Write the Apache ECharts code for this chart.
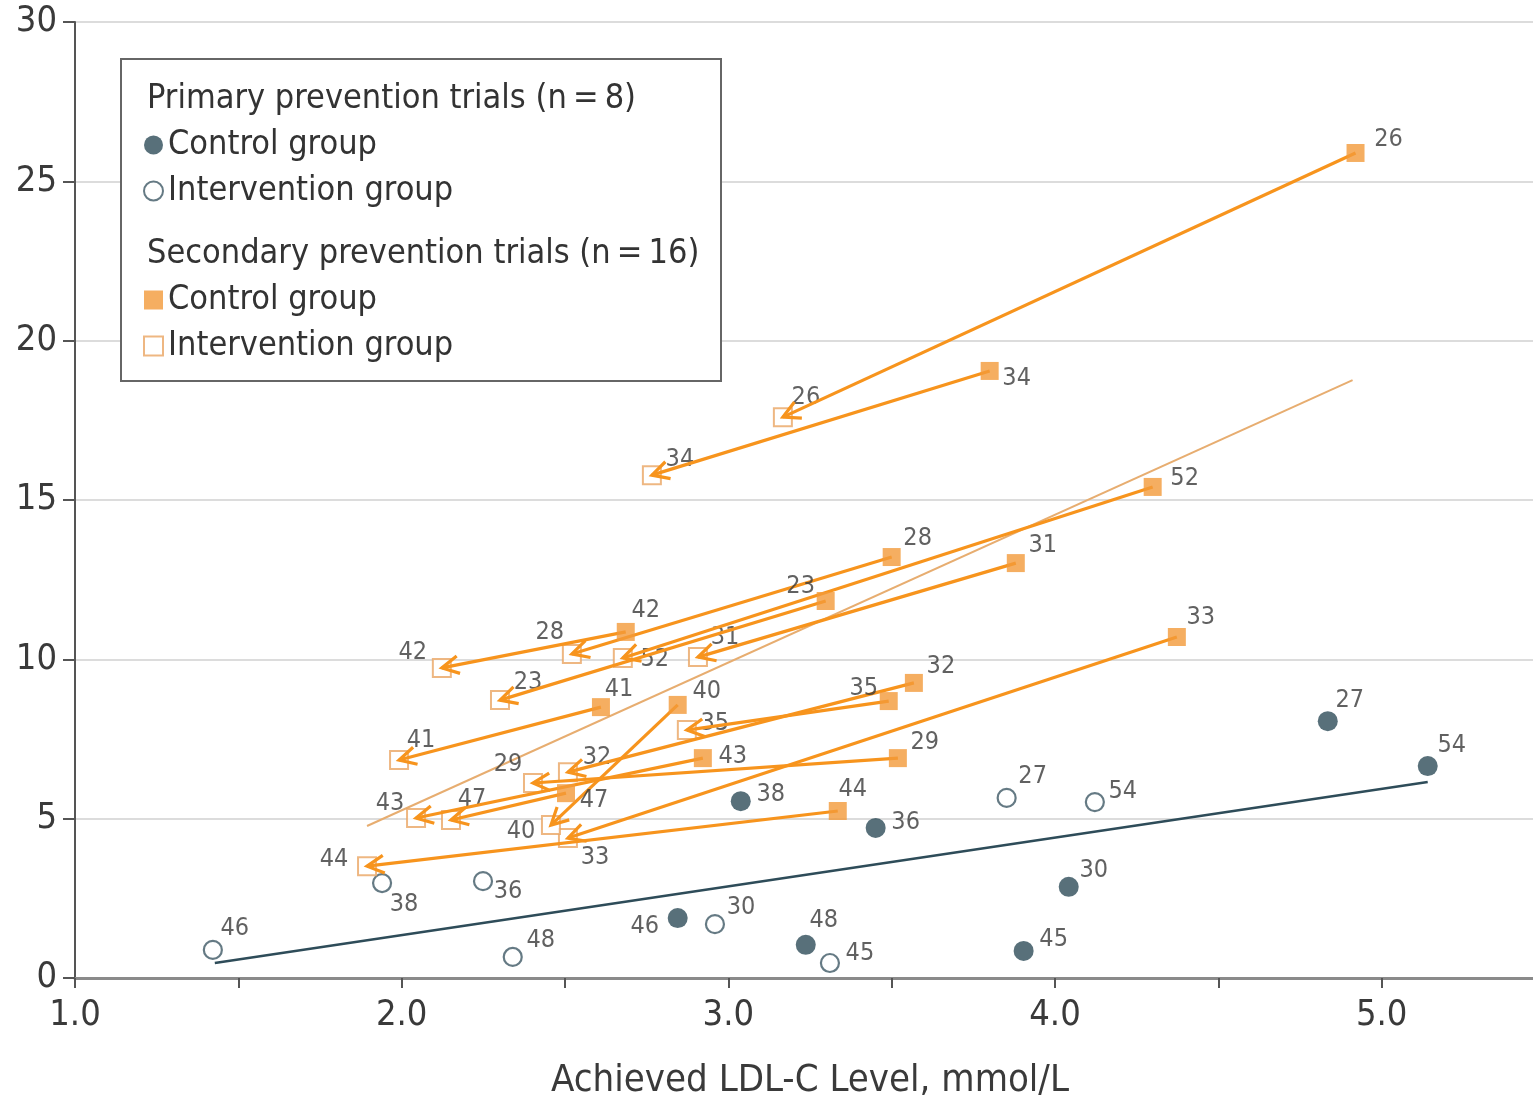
<!DOCTYPE html>
<html><head><meta charset="utf-8">
<script src="https://cdn.jsdelivr.net/npm/echarts@6/dist/echarts.min.js"></script>
<style>html,body{margin:0;padding:0;background:#fff}#c{width:1533px;height:1099px}</style>
</head><body><div id="c"></div>
<script>
// ---------- DATA ----------
const primaryLabels = ['27','54','38','36','30','46','48','45'];
const primaryControlX = [4.835,5.141,3.038,3.451,4.042,2.845,3.237,3.904];
const primaryControlY = [8.06,6.65,5.55,4.71,2.86,1.88,1.04,0.85];
const primaryInterventionX = [3.852,4.122,1.940,2.249,2.959,1.422,2.340,3.311];
const primaryInterventionY = [5.65,5.52,2.98,3.04,1.69,0.88,0.66,0.47];

const secondaryLabels = ['26','34','52','28','31','23','42','33','32','35','41','40','43','29','47','44'];
const secondaryControlX = [4.920,3.800,4.299,3.500,3.880,3.298,2.686,4.373,3.568,3.491,2.610,2.845,2.922,3.519,2.503,3.335];
const secondaryControlY = [25.89,19.05,15.41,13.21,13.02,11.83,10.86,10.70,9.26,8.69,8.50,8.57,6.90,6.90,5.80,5.24];
const secondaryInterventionX = [3.167,2.766,2.677,2.521,2.907,2.301,2.123,2.509,2.509,2.873,1.992,2.457,2.044,2.402,2.151,1.894];
const secondaryInterventionY = [17.60,15.78,10.04,10.17,10.07,8.72,9.73,4.39,6.46,7.78,6.84,4.80,5.02,6.12,4.96,3.51];

const primaryFitX = [1.428, 5.141];
const primaryFitY = [0.47, 6.15];
const secondaryFitX = [1.894, 4.911];
const secondaryFitY = [4.77, 18.76];

const xTickLabels = ['1.0','2.0','3.0','4.0','5.0'];
const yTickLabels = ['0','5','10','15','20','25','30'];
const xAxisTitle = 'Achieved LDL-C Level, mmol/L';
const legendHeaders = ['Primary prevention trials (n\u2009=\u20098)', 'Secondary prevention trials (n\u2009=\u200916)'];

// ---------- STYLE (label offsets in px) ----------
const pcOff = [[22,-21],[24,-21],[30,-7],[30,-5],[25,-16],[-33,8],[18,-24],[30,-11]];
const piOff = [[26,-21],[28,-11],[22,21],[25,10],[26,-17],[22,-21],[28,-16],[30,-10]];
const scOff = [[33,-13],[27,8],[32,-8],[26,-19],[27,-18],[-25,-15],[20,-21],[24,-20],[27,-16],[-25,-13],[18,-18],[29,-13],[30,-2],[27,-16],[28,7],[15,-22]];
const siOff = [[23,-20],[28,-16],[32,1],[-22,-21],[27,-20],[28,-18],[-29,-15],[27,19],[29,-15],[28,-7],[22,-20],[-30,6],[-26,-15],[-25,-18],[21,-20],[-33,-7]];

const FONT = '"DejaVu Sans Condensed","DejaVu Sans",sans-serif';
const DARK = '#2e4c59';
const ORANGE = '#f39a3a';
const ARROW = '#f7941d';
const OPEN_SQ = '#eaa563';
const TEXT = '#3a3a3a';

function pts(xs, ys, labels, offs) {
  return xs.map((x, i) => ({
    value: [x, ys[i]],
    name: labels[i],
    label: { offset: offs[i] }
  }));
}
const lbl = {
  show: true, position: 'inside', formatter: p => p.name,
  fontSize: 25, fontFamily: FONT, color: TEXT
};

const chart = echarts.init(document.getElementById('c'), null, {renderer: 'canvas'});
const option = {
  backgroundColor: '#fff',
  animation: false,
  grid: { left: 75, right: -12, top: 22, bottom: 121, outerBoundsMode: 'none', containLabel: false },
  xAxis: {
    type: 'value', min: 1, max: 5.5, interval: 0.5,
    name: xAxisTitle, nameLocation: 'middle', nameGap: 84,
    nameTextStyle: { fontSize: 38, fontFamily: FONT, color: TEXT },
    axisLine: { show: true, onZero: false, lineStyle: { color: '#8a8a8a', width: 3 } },
    axisTick: { show: true, length: 10, lineStyle: { color: '#555', width: 2 } },
    axisLabel: {
      margin: 20, fontSize: 36, fontFamily: FONT, color: TEXT,
      formatter: v => { const s = v.toFixed(1); return xTickLabels.includes(s) ? s : ''; }
    },
    splitLine: { show: false }
  },
  yAxis: {
    type: 'value', min: 0, max: 30, interval: 5,
    axisLine: { show: true, lineStyle: { color: '#555', width: 2 } },
    axisTick: { show: true, length: 12, lineStyle: { color: '#555', width: 2 } },
    axisLabel: {
      margin: 18, fontSize: 36, fontFamily: FONT, color: TEXT,
      formatter: v => { const s = String(v); return yTickLabels.includes(s) ? s : ''; }
    },
    splitLine: { show: true, lineStyle: { color: '#dcdcdc', width: 2 } }
  },
  legend: [
    {
      data: ['Primary control', 'Primary intervention'],
      orient: 'vertical', left: 138, top: 120, itemGap: 6,
      itemWidth: 19, itemHeight: 19, z: 20,
      formatter: n => n.indexOf('control') >= 0 ? 'Control group' : 'Intervention group',
      textStyle: { fontSize: 34, fontFamily: FONT, color: '#333', lineHeight: 40 },
      selectedMode: false
    },
    {
      data: ['Secondary control', 'Secondary intervention'],
      orient: 'vertical', left: 138, top: 275, itemGap: 6,
      itemWidth: 19, itemHeight: 19, z: 20,
      formatter: n => n.indexOf('control') >= 0 ? 'Control group' : 'Intervention group',
      textStyle: { fontSize: 34, fontFamily: FONT, color: '#333', lineHeight: 40 },
      selectedMode: false
    }
  ],
  graphic: [
    { type: 'rect', left: 120, top: 58, z: 15,
      shape: { width: 600, height: 322 },
      style: { fill: '#fff', stroke: '#666', lineWidth: 2 } },
    { type: 'text', left: 147, top: 82, z: 20,
      style: { text: legendHeaders[0], fontSize: 34, fontFamily: FONT, fill: '#333' } },
    { type: 'text', left: 147, top: 237, z: 20,
      style: { text: legendHeaders[1], fontSize: 34, fontFamily: FONT, fill: '#333' } }
  ],
  series: [
    {
      name: 'Primary fit', type: 'line', symbol: 'none', silent: true, z: 2,
      data: primaryFitX.map((x, i) => [x, primaryFitY[i]]),
      lineStyle: { color: DARK, width: 2.5 }
    },
    {
      name: 'Secondary fit', type: 'line', symbol: 'none', silent: true, z: 2,
      data: secondaryFitX.map((x, i) => [x, secondaryFitY[i]]),
      lineStyle: { color: '#e7ad70', width: 2 }
    },
    {
      name: 'Primary control', type: 'scatter', symbol: 'circle', symbolSize: 20, z: 3,
      itemStyle: { color: DARK },
      label: lbl,
      data: pts(primaryControlX, primaryControlY, primaryLabels, pcOff)
    },
    {
      name: 'Primary intervention', type: 'scatter', symbol: 'circle', symbolSize: 18, z: 3,
      itemStyle: { color: '#fff', borderColor: '#3e5965', borderWidth: 2.2 },
      label: lbl,
      data: pts(primaryInterventionX, primaryInterventionY, primaryLabels, piOff)
    },
    {
      name: 'Secondary intervention', type: 'scatter', symbol: 'rect', symbolSize: 18, z: 3,
      itemStyle: { color: '#fff', borderColor: OPEN_SQ, borderWidth: 2 },
      label: lbl,
      data: pts(secondaryInterventionX, secondaryInterventionY, secondaryLabels, siOff)
    },
    {
      name: 'Arrows', type: 'custom', z: 4, silent: true,
      encode: { x: [0, 2], y: [1, 3] },
      data: secondaryControlX.map((x, i) => [x, secondaryControlY[i], secondaryInterventionX[i], secondaryInterventionY[i]]),
      renderItem: (params, api) => {
        const p1 = api.coord([api.value(0), api.value(1)]);
        const p2 = api.coord([api.value(2), api.value(3)]);
        const ang = Math.atan2(p1[1] - p2[1], p1[0] - p2[0]);
        const L = 19, a = Math.PI / 6.5;
        const h1 = [p2[0] + L * Math.cos(ang + a), p2[1] + L * Math.sin(ang + a)];
        const h2 = [p2[0] + L * Math.cos(ang - a), p2[1] + L * Math.sin(ang - a)];
        return {
          type: 'group',
          children: [
            { type: 'line', shape: { x1: p1[0], y1: p1[1], x2: p2[0], y2: p2[1] },
              style: { stroke: ARROW, lineWidth: 3.2 } },
            { type: 'polyline', shape: { points: [h1, p2, h2] },
              style: { stroke: ARROW, lineWidth: 3.2, fill: null, lineJoin: 'miter' } }
          ]
        };
      }
    },
    {
      name: 'Secondary control', type: 'scatter', symbol: 'rect', symbolSize: 18, z: 5,
      itemStyle: { color: ORANGE },
      label: lbl,
      data: pts(secondaryControlX, secondaryControlY, secondaryLabels, scOff)
    }
  ]
};
chart.setOption(option);
</script>
</body></html>
